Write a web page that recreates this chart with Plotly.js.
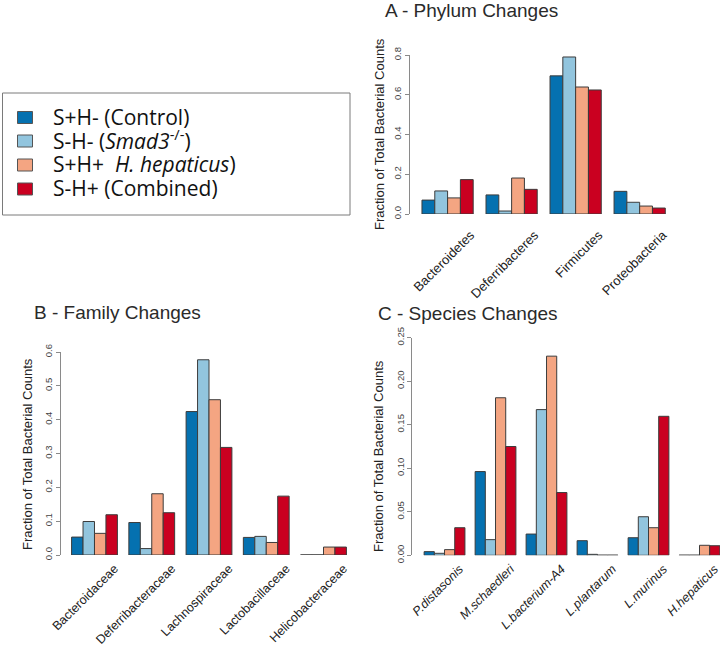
<!DOCTYPE html>
<html><head><meta charset="utf-8">
<script src="https://cdn.plot.ly/plotly-3.0.1.min.js"></script>
<style>html,body{margin:0;padding:0;background:#fff}#chart{width:720px;height:645px}</style>
</head><body><div id="chart"></div>
<script>
// ---- data ----
const seriesNames = ['S+H- (Control)', 'S-H- (Smad3-/-)', 'S+H+ H. hepaticus)', 'S-H+ (Combined)'];
const legendLabels = ['S+H- (Control)', 'S-H- (<i>Smad3</i><sup>-/-</sup>)', 'S+H+&nbsp; <i>H. hepaticus</i>)', 'S-H+ (Combined)'];
const colors = ['#0571b0', '#92c5de', '#f4a582', '#ca0020'];

const phylumCategories = ['Bacteroidetes', 'Deferribacteres', 'Firmicutes', 'Proteobacteria'];
const phylumControl  = [0.070, 0.096, 0.695, 0.114];
const phylumSmad3    = [0.116, 0.015, 0.790, 0.059];
const phylumHhep     = [0.081, 0.181, 0.639, 0.040];
const phylumCombined = [0.173, 0.124, 0.624, 0.030];
const phylumTicks = [0, 0.2, 0.4, 0.6, 0.8];

const familyCategories = ['Bacteroidaceae', 'Deferribacteraceae', 'Lachnospiraceae', 'Lactobacillaceae', 'Helicobacteraceae'];
const familyControl  = [0.053, 0.096, 0.424, 0.052, 0.0003];
const familySmad3    = [0.099, 0.019, 0.577, 0.055, 0.0003];
const familyHhep     = [0.064, 0.181, 0.459, 0.037, 0.0235];
const familyCombined = [0.119, 0.125, 0.318, 0.174, 0.0235];
const familyTicks = [0, 0.1, 0.2, 0.3, 0.4, 0.5, 0.6];

const speciesCategories = ['P.distasonis', 'M.schaedleri', 'L.bacterium-A4', 'L.plantarum', 'L.murinus', 'H.hepaticus'];
const speciesControl  = [0.0042, 0.0962, 0.0244, 0.0168, 0.0202, 0.0002];
const speciesSmad3    = [0.0023, 0.0180, 0.1674, 0.0011, 0.0443, 0.0002];
const speciesHhep     = [0.0065, 0.1810, 0.2288, 0.0002, 0.0317, 0.0115];
const speciesCombined = [0.0317, 0.1250, 0.0721, 0.0002, 0.1597, 0.0110];
const speciesTicks = [0, 0.05, 0.10, 0.15, 0.20, 0.25];

const panelTitles = ['A - Phylum Changes', 'B - Family Changes', 'C - Species Changes'];
const yTitle = 'Fraction of Total Bacterial Counts';

// ---- layout helpers ----
const W = 720, H = 645;
const FONT = 'Liberation Sans, Arial, Helvetica, sans-serif';
const xdom = (l, r) => [l / W, r / W];
const ydom = (top, bottom) => [1 - bottom / H, 1 - top / H];
const px = v => v / W;
const py = v => 1 - v / H;

const panels = [
  {cats: phylumCategories, series: [phylumControl, phylumSmad3, phylumHhep, phylumCombined], ticks: phylumTicks, fmt: '.1f',
   ax: '', xd: xdom(409.5, 675), yd: ydom(55, 214), xr: [-0.595, 3.552], italic: false, shift: 23, standoff: 10, fs: 13},
  {cats: familyCategories, series: [familyControl, familySmad3, familyHhep, familyCombined], ticks: familyTicks, fmt: '.1f',
   ax: '2', xd: xdom(60.6, 357.4), yd: ydom(352, 555), xr: [-0.592, 4.592], italic: false, shift: 20, standoff: 3, fs: 12.5},
  {cats: speciesCategories, series: [speciesControl, speciesSmad3, speciesHhep, speciesCombined], ticks: speciesTicks, fmt: '.2f',
   ax: '3', xd: xdom(412.3, 720), yd: ydom(337.7, 555.3), xr: [-0.632, 5.402], italic: true, shift: 15, standoff: 3, fs: 12.5}
];

const data = [];
const layout = {
  width: W, height: H,
  margin: {l: 0, r: 0, t: 0, b: 0, pad: 0},
  paper_bgcolor: '#fff', plot_bgcolor: 'rgba(0,0,0,0)',
  barmode: 'group', bargap: 0.2, bargroupgap: 0,
  showlegend: false,
  font: {family: FONT, color: '#222'},
  annotations: [], shapes: []
};

panels.forEach(p => {
  p.series.forEach((vals, i) => {
    data.push({
      type: 'bar', x: p.cats, y: vals, name: seriesNames[i],
      xaxis: 'x' + p.ax, yaxis: 'y' + p.ax,
      marker: {color: colors[i], line: {color: '#3c3c3c', width: 1}},
      showlegend: false
    });
  });
  const t = p.ticks;
  layout['xaxis' + p.ax] = {
    domain: p.xd, range: p.xr, type: 'category', anchor: 'y' + p.ax,
    showline: false, ticks: '', showgrid: false, zeroline: false, fixedrange: true,
    tickangle: -45, ticklabelshift: p.shift, ticklabelstandoff: p.standoff,
    tickfont: {family: FONT, size: p.fs, color: '#222', style: p.italic ? 'italic' : 'normal'}
  };
  layout['yaxis' + p.ax] = {
    domain: p.yd, range: [t[0], t[t.length - 1]], anchor: 'x' + p.ax,
    tickmode: 'array', tickvals: t, tickformat: p.fmt,
    showline: true, linecolor: '#8a8a8a', linewidth: 1,
    ticks: 'outside', ticklen: 4, tickcolor: '#8a8a8a', tickwidth: 1,
    tickangle: -90, tickfont: {family: FONT, size: 9.5, color: '#444'},
    showgrid: false, zeroline: false, fixedrange: true
  };
});

// panel titles
const titlePos = [[383, 11], [32, 312], [376, 313]];
panelTitles.forEach((txt, i) => {
  layout.annotations.push({text: txt, xref: 'paper', yref: 'paper', x: px(titlePos[i][0]), y: py(titlePos[i][1]),
    xanchor: 'left', yanchor: 'middle', showarrow: false, font: {family: FONT, size: 19, color: '#2a2a2a'}});
});
// y-axis titles
const yTitlePos = [[380, 134], [27, 454], [378, 456]];
yTitlePos.forEach(pos => {
  layout.annotations.push({text: yTitle, xref: 'paper', yref: 'paper', x: px(pos[0]), y: py(pos[1]),
    xanchor: 'center', yanchor: 'middle', textangle: -90, showarrow: false, font: {family: FONT, size: 13, color: '#222'}});
});

// legend box
layout.shapes.push({type: 'rect', xref: 'paper', yref: 'paper', x0: px(2.5), x1: px(350), y0: py(93), y1: py(215),
  line: {color: '#7a7a7a', width: 1}, fillcolor: 'rgba(0,0,0,0)'});
const legendY = [117.5, 141, 165, 189];
legendLabels.forEach((lab, i) => {
  const cy = legendY[i];
  layout.shapes.push({type: 'rect', xref: 'paper', yref: 'paper', x0: px(17.5), x1: px(32.5), y0: py(cy + 6), y1: py(cy - 6),
    line: {color: '#555', width: 1}, fillcolor: colors[i]});
  layout.annotations.push({text: lab, xref: 'paper', yref: 'paper', x: px(51), y: py(cy - 1),
    xanchor: 'left', yanchor: 'middle', showarrow: false, font: {family: 'Open Sans, Noto Sans, sans-serif', size: 21, color: '#111'}});
});

Plotly.newPlot('chart', data, layout, {staticPlot: true, displayModeBar: false});
</script>
</body></html>
